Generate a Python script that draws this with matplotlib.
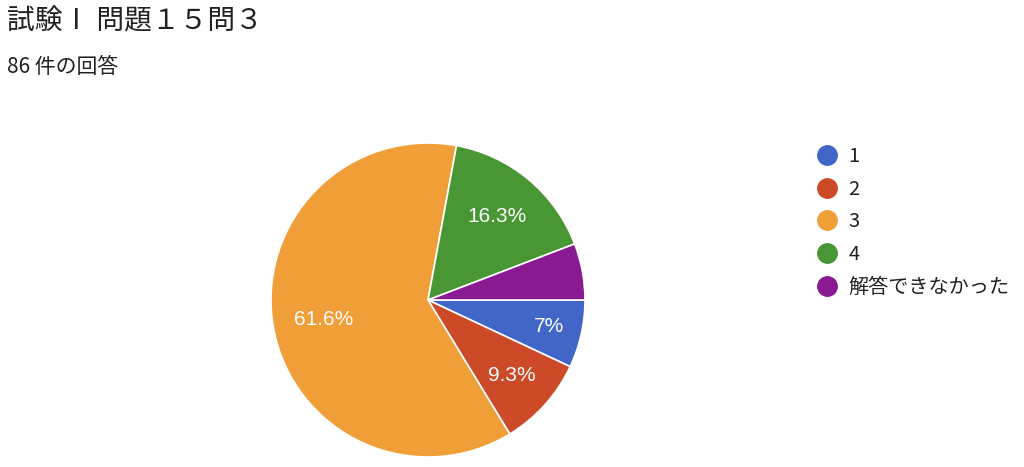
import matplotlib
matplotlib.use("Agg")
import matplotlib.pyplot as plt
import numpy as np
from matplotlib.lines import Line2D

plt.rcParams["font.family"] = ["Noto Sans CJK JP", "DejaVu Sans"]

title = "試験Ⅰ 問題１５問３"
subtitle = "86 件の回答"
labels = ["1", "2", "3", "4", "解答できなかった"]
counts = [6, 8, 53, 14, 5]
colors = ["#4266C8", "#CC4A27", "#F09E37", "#489634", "#8A1A91"]
# radial placement of the % labels (fraction of radius), per slice
label_dist = [0.79, 0.72, 0.675, 0.69, 0.7]

W, H = 1024, 467
fig = plt.figure(figsize=(W / 100, H / 100), dpi=100)

# pie: center (428, 300) px, radius 157 px
cx, cy, r = 428, 300, 157
ax = fig.add_axes([(cx - r) / W, (H - cy - r) / H, 2 * r / W, 2 * r / H])


def fmt(p):
    if p < 6:
        return ""
    s = f"{p:.1f}"
    if s.endswith(".0"):
        s = s[:-2]
    return s + "%"


wedges, texts, autotexts = ax.pie(
    counts, colors=colors, startangle=0, counterclock=False, radius=1,
    autopct=fmt, pctdistance=0.74,
    wedgeprops=dict(edgecolor="white", linewidth=1.2),
    textprops=dict(color="white", fontsize=15, family=["Liberation Sans", "DejaVu Sans"]),
)
for w, t, d in zip(wedges, autotexts, label_dist):
    a = np.deg2rad((w.theta1 + w.theta2) / 2)
    t.set_position((d * np.cos(a), d * np.sin(a)))

ax.set_xlim(-1, 1)
ax.set_ylim(-1, 1)
ax.set_aspect("equal")
ax.axis("off")

fig.text(7 / W, 1 - 21 / H, title, fontsize=20, color="#212121", va="center", ha="left")
fig.text(7 / W, 1 - 67 / H, subtitle, fontsize=15, color="#212121", va="center", ha="left")

handles = [Line2D([], [], marker="o", linestyle="", markersize=14,
                  markerfacecolor=c, markeredgecolor=c) for c in colors]
fig.legend(handles, labels, loc="upper left", bbox_to_anchor=(815 / W, 1 - 146 / H),
           frameon=False, fontsize=14.5, handletextpad=0.45, labelspacing=0.58,
           handlelength=1.2, labelcolor="#212121", borderaxespad=0, borderpad=0)

fig.savefig("out.png", dpi=100)
